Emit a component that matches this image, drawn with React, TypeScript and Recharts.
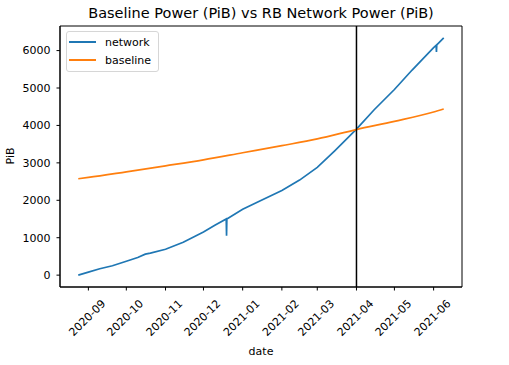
import { LineChart, Line, XAxis, YAxis, ReferenceLine, ReferenceArea } from "recharts";

const FONT = "'DejaVu Sans', sans-serif";
const BLUE = "#1f77b4";
const ORANGE = "#ff7f0e";

// network raw-byte power
const networkDates = [
  "2020-08-24", "2020-09-01", "2020-09-10", "2020-09-20", "2020-10-01", "2020-10-10",
  "2020-10-16", "2020-10-20", "2020-11-01", "2020-11-15", "2020-12-01", "2020-12-10",
  "2020-12-19T00", "2020-12-19T06", "2020-12-19T12", "2021-01-01", "2021-01-15", "2021-02-01",
  "2021-02-15", "2021-03-01", "2021-03-15", "2021-04-01", "2021-04-15", "2021-05-01",
  "2021-05-15", "2021-06-01", "2021-06-03T00", "2021-06-03T06", "2021-06-03T12", "2021-06-09",
];
const networkPiB = [
  0, 80, 170, 250, 370, 470,
  560, 590, 690, 880, 1150, 1330,
  1500, 1050, 1500, 1760, 1990, 2260,
  2540, 2880, 3330, 3900, 4420, 4960,
  5480, 6080, 6140, 5960, 6150, 6340,
];

const baselineDates = [
  "2020-08-24", "2020-09-01", "2020-10-01", "2020-11-01", "2020-12-01", "2021-01-01",
  "2021-02-01", "2021-03-01", "2021-04-01", "2021-05-01", "2021-06-01", "2021-06-09",
];
const baselinePiB = [2575, 2610, 2760, 2920, 3080, 3270, 3460, 3640, 3890, 4110, 4360, 4440];

const monthTicks = [
  "2020-09", "2020-10", "2020-11", "2020-12", "2021-01",
  "2021-02", "2021-03", "2021-04", "2021-05", "2021-06",
];
const yTicks = [0, 1000, 2000, 3000, 4000, 5000, 6000];
const crossoverDate = "2021-04-01";

const ts = (d: string) => {
  if (d.length === 7) return Date.parse(d + "-01T00:00:00Z");
  if (d.length > 10) return Date.parse(d + ":00:00Z");
  return Date.parse(d + "T00:00:00Z");
};

const networkData = networkDates.map((d, i) => ({ t: ts(d), network: networkPiB[i] }));
const baselineData = baselineDates.map((d, i) => ({ t: ts(d), baseline: baselinePiB[i] }));

// matplotlib-style 5% margins
const allT = [...networkData.map((p) => p.t), ...baselineData.map((p) => p.t)];
const tMin = Math.min(...allT);
const tMax = Math.max(...allT);
const tPad = (tMax - tMin) * 0.05;
const xDomain = [tMin - tPad, tMax + tPad];
const allV = [...networkPiB, ...baselinePiB];
const vMin = Math.min(...allV);
const vMax = Math.max(...allV);
const vPad = (vMax - vMin) * 0.05;
const yDomain = [vMin - vPad, vMax + vPad];

const fmtMonth = (t: number) => {
  const d = new Date(t);
  return `${d.getUTCFullYear()}-${String(d.getUTCMonth() + 1).padStart(2, "0")}`;
};

function DateTick(props: any) {
  const { x, payload } = props;
  const cy = 318;
  const cx = x - 1;
  return (
    <text
      x={cx}
      y={cy}
      transform={`rotate(-45 ${cx} ${cy})`}
      textAnchor="middle"
      dominantBaseline="central"
      fontSize={11}
      fontFamily={FONT}
      fill="#000"
    >
      {fmtMonth(payload.value)}
    </text>
  );
}

function PibLabel() {
  return (
    <text
      x={10}
      y={156}
      transform="rotate(-90 10 156)"
      textAnchor="middle"
      dominantBaseline="central"
      fontSize={11}
      fontFamily={FONT}
      fill="#000"
    >
      PiB
    </text>
  );
}

function LegendBox() {
  const row = (color: string, label: string) => (
    <div style={{ display: "flex", alignItems: "center", height: 18 }}>
      <span style={{ display: "inline-block", width: 27, height: 0, borderTop: `2px solid ${color}`, marginRight: 9 }} />
      <span>{label}</span>
    </div>
  );
  return (
    <div
      style={{
        position: "absolute",
        left: 66,
        top: 31,
        boxSizing: "border-box",
        width: 93,
        height: 41,
        border: "1px solid #d6d6d6",
        borderRadius: 3,
        background: "rgba(255,255,255,0.8)",
        padding: "1px 0 0 2px",
        fontFamily: FONT,
        fontSize: 11,
        color: "#000",
        zIndex: 2,
      }}
    >
      {row(BLUE, "network")}
      {row(ORANGE, "baseline")}
    </div>
  );
}

export default function App() {
  return (
    <div style={{ position: "absolute", left: 0, top: 0, width: 509, height: 365, background: "#fff" }}>
      <div
        style={{
          position: "absolute",
          left: 60,
          width: 402,
          top: 5,
          textAlign: "center",
          fontFamily: FONT,
          fontSize: 14.5,
          lineHeight: "17px",
          color: "#000",
        }}
      >
        Baseline Power (PiB) vs RB Network Power (PiB)
      </div>
      <LineChart width={509} height={365} margin={{ top: 26, right: 47, bottom: 0, left: 0 }}>
        <XAxis
          dataKey="t"
          type="number"
          domain={xDomain}
          allowDataOverflow
          ticks={monthTicks.map(ts)}
          interval={0}
          tick={<DateTick />}
          tickSize={3.5}
          tickLine={{ stroke: "#000" }}
          axisLine={{ stroke: "#000" }}
          height={78}
          label={{ value: "date", position: "insideBottom", offset: 10, fontSize: 11, fontFamily: FONT, fill: "#000" }}
        />
        <YAxis
          type="number"
          domain={yDomain}
          allowDataOverflow
          ticks={yTicks}
          interval={0}
          width={60}
          tickSize={3.5}
          tickMargin={6}
          tick={{ fontSize: 11, fontFamily: FONT, fill: "#000" }}
          tickLine={{ stroke: "#000" }}
          axisLine={{ stroke: "#000" }}
          label={<PibLabel />}
        />
        <ReferenceArea
          x1={xDomain[0]}
          x2={xDomain[1]}
          y1={yDomain[0]}
          y2={yDomain[1]}
          fill="none"
          stroke="#000"
          strokeWidth={1}
          ifOverflow="visible"
        />
        <Line
          data={networkData}
          dataKey="network"
          name="network"
          type="linear"
          stroke={BLUE}
          strokeWidth={1.7}
          dot={false}
          isAnimationActive={false}
        />
        <Line
          data={baselineData}
          dataKey="baseline"
          name="baseline"
          type="monotone"
          stroke={ORANGE}
          strokeWidth={1.7}
          dot={false}
          isAnimationActive={false}
        />
        <ReferenceLine x={ts(crossoverDate)} stroke="#000" strokeWidth={1.5} />
      </LineChart>
      <LegendBox />
    </div>
  );
}
